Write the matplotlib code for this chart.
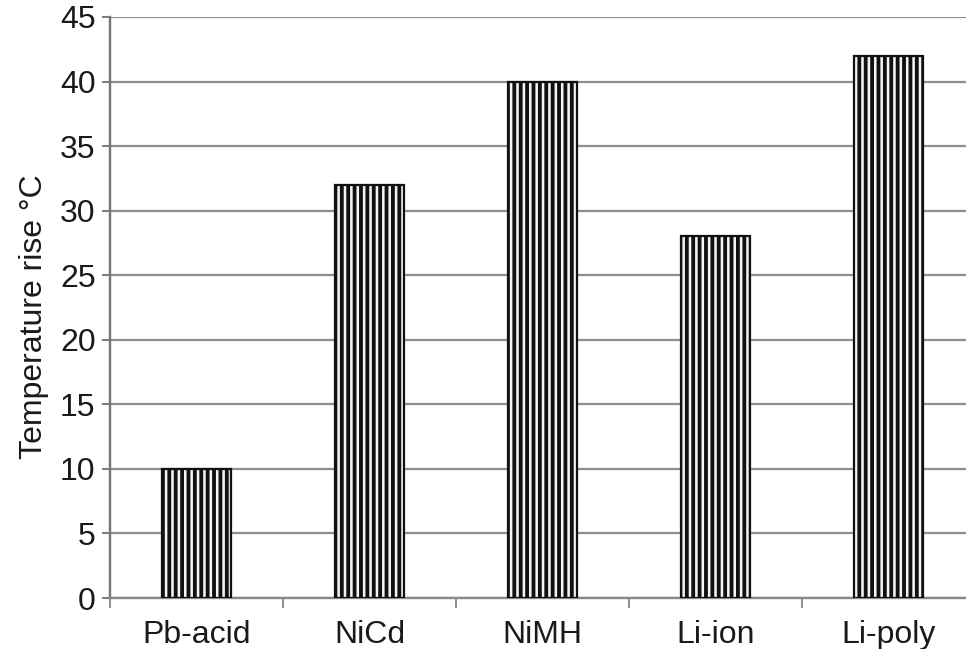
import matplotlib
matplotlib.use("Agg")
import matplotlib.pyplot as plt

categories = ["Pb-acid", "NiCd", "NiMH", "Li-ion", "Li-poly"]
values = [10, 32, 40, 28, 42]
yticks = [0, 5, 10, 15, 20, 25, 30, 35, 40, 45]

DPI = 115
plt.rcParams['font.family'] = ['Liberation Sans', 'DejaVu Sans']
plt.rcParams['hatch.linewidth'] = 2.4
plt.rcParams['hatch.color'] = '#111111'

fig = plt.figure(figsize=(966 / DPI, 649 / DPI), dpi=DPI)
# axes: left x=110, right at 975 px (beyond figure), bottom y=598, top y=17
W, H = 966, 649
ax = fig.add_axes([110 / W, (H - 598) / H, (975 - 110) / W, (598 - 17) / H])

x = list(range(len(categories)))
ax.bar(x, values, width=0.40, color='#f4f4f4', edgecolor='#111111',
       linewidth=1.4, hatch='|||', zorder=3)

ax.set_xlim(-0.5, len(categories) - 0.5)
ax.set_ylim(0, 45)
ax.set_yticks(yticks)
ax.set_yticklabels([str(t) for t in yticks])
ax.set_xticks(x)
ax.set_xticklabels(categories)
ax.set_xticks([i + 0.5 for i in range(-1, len(categories))], minor=True)

ax.yaxis.grid(True, color='#8f8f8f', linewidth=1.4, zorder=0)
ax.set_axisbelow(True)

for s in ['top', 'right']:
    ax.spines[s].set_visible(False)
ax.spines['left'].set_color('#777777')
ax.spines['left'].set_linewidth(1.5)
ax.spines['bottom'].set_color('#8a8a8a')
ax.spines['bottom'].set_linewidth(1.5)

ax.tick_params(axis='y', which='major', length=5, width=1.2, color='#777777',
               labelsize=20, labelcolor='#1a1a1a', pad=4)
ax.tick_params(axis='x', which='major', length=0, labelsize=20,
               labelcolor='#1a1a1a', pad=14)
ax.tick_params(axis='x', which='minor', length=6, width=1.2, color='#8a8a8a')

ax.set_ylabel("Temperature rise °C", fontsize=20, color='#1a1a1a')
ax.yaxis.set_label_coords(-0.071, 0.485)

fig.savefig("out.png", dpi=DPI, facecolor='white')
